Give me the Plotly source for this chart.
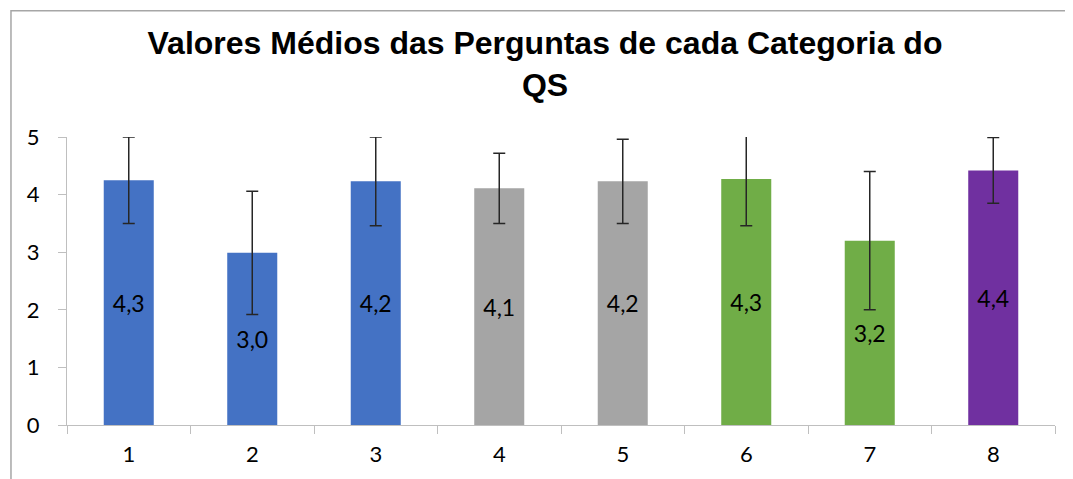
import plotly.graph_objects as go

# Mean score per category of the QS, with standard deviation
categories = ["1", "2", "3", "4", "5", "6", "7", "8"]
means = [4.25, 2.99, 4.23, 4.11, 4.23, 4.27, 3.20, 4.42]
std_devs = [0.75, 1.07, 0.77, 0.61, 0.73, 0.81, 1.20, 0.57]
bar_colors = ["#4472C4", "#4472C4", "#4472C4", "#A5A5A5", "#A5A5A5",
              "#70AD47", "#70AD47", "#7030A0"]

TICK_FONT = dict(family="Lato, 'Noto Sans', sans-serif", size=22, color="#000000")
AXIS_COLOR = "#BFBFBF"

# page body has an 8px margin, so the figure is shrunk to fit the window
W, H = 1065, 471

fig = go.Figure()

fig.add_trace(go.Bar(
    x=categories,
    y=means,
    marker=dict(color=bar_colors, line=dict(width=0)),
    error_y=dict(type="data", array=std_devs, visible=True,
                 color="#262626", thickness=1.5, width=6),
    texttemplate="%{y:.1f}",
    textposition="inside",
    insidetextanchor="middle",
    textangle=0,
    textfont=dict(family="Lato, 'Noto Sans', sans-serif", size=23, color="#000000"),
    hoverinfo="skip",
))

fig.update_layout(
    width=W, height=H,
    separators=",.",
    paper_bgcolor="white",
    plot_bgcolor="white",
    showlegend=False,
    bargap=0.595,
    margin=dict(t=129, b=51, l=59, r=18),
    title=dict(
        text="Valores Médios das Perguntas de cada Categoria do<br>QS",
        font=dict(family="'Liberation Sans', Arial, sans-serif", size=32,
                  color="#000000", weight="bold"),
        x=537 / W, xref="container", xanchor="center",
        y=1 - 46 / H, yref="container", yanchor="top",
    ),
    xaxis=dict(
        type="category",
        showgrid=False,
        showline=True, linecolor=AXIS_COLOR, linewidth=1,
        ticks="outside", tickson="boundaries", ticklen=8,
        tickcolor=AXIS_COLOR, tickwidth=1,
        tickfont=TICK_FONT,
        ticklabelstandoff=10,
    ),
    yaxis=dict(
        range=[0, 5], dtick=1,
        showgrid=False, zeroline=False,
        showline=True, linecolor=AXIS_COLOR, linewidth=1,
        ticks="outside", ticklen=8,
        tickcolor=AXIS_COLOR, tickwidth=1,
        tickfont=TICK_FONT,
        ticklabelstandoff=14,
    ),
    # chart-area frame (top and left edges visible in the crop)
    shapes=[dict(
        type="path", xref="paper", yref="paper",
        path="M -0.0567,-0.3 L -0.0567,1.438 L 1.1,1.438",
        line=dict(color="#A6A6A6", width=1.5),
    )],
)

fig.write_html("out.html")
